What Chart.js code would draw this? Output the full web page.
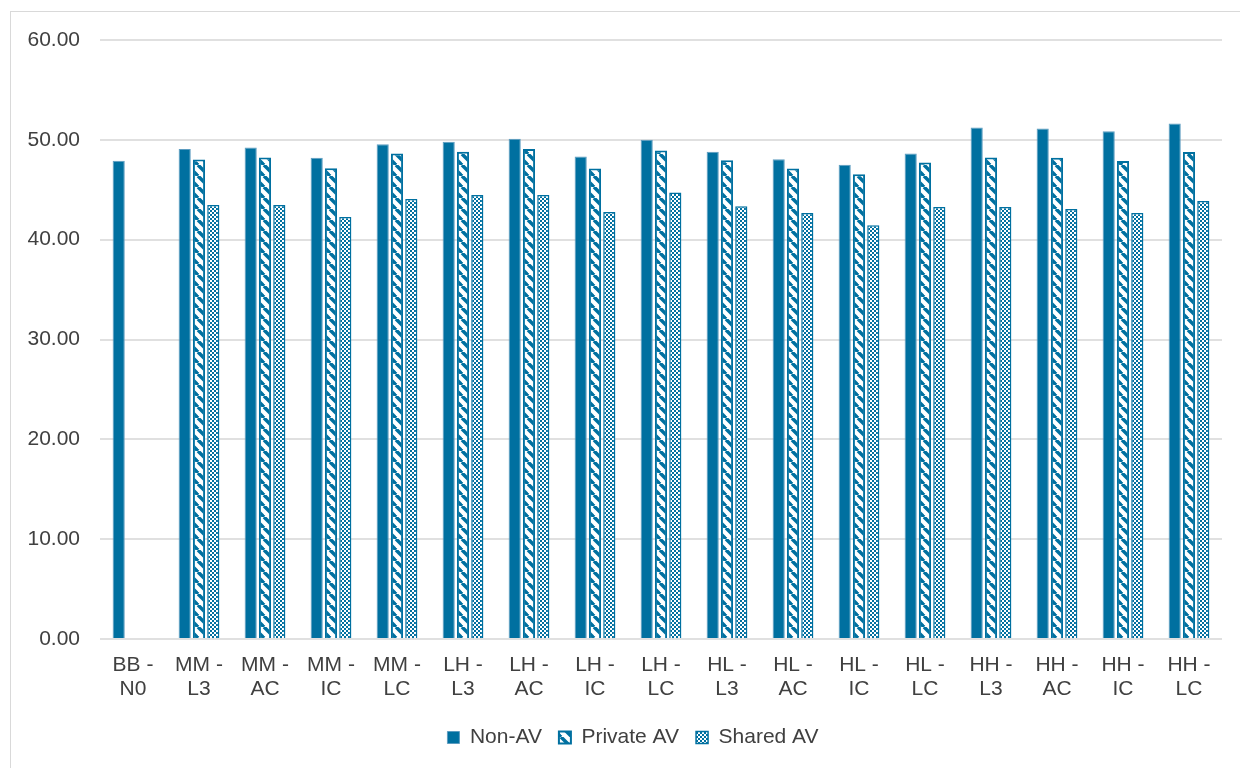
<!DOCTYPE html>
<html>
<head>
<meta charset="utf-8">
<script src="https://cdn.jsdelivr.net/npm/chart.js@4.4.1/dist/chart.umd.min.js"></script>
<style>
  html, body { margin: 0; padding: 0; background: #fff; overflow: hidden; }
  #frame { position: absolute; left: 10px; top: 11px; width: 1400px; height: 900px; border: 1px solid #d9d9d9; }
  #wrap { position: absolute; left: 0; top: 0; width: 1240px; height: 768px; }
</style>
</head>
<body>
<div id="frame"></div>
<div id="wrap"><canvas id="chart"></canvas></div>
<script>
// categories (two-line labels)
const categories = [
    ['BB -', 'N0'], ['MM -', 'L3'], ['MM -', 'AC'], ['MM -', 'IC'], ['MM -', 'LC'],
    ['LH -', 'L3'], ['LH -', 'AC'], ['LH -', 'IC'], ['LH -', 'LC'],
    ['HL -', 'L3'], ['HL -', 'AC'], ['HL -', 'IC'], ['HL -', 'LC'],
    ['HH -', 'L3'], ['HH -', 'AC'], ['HH -', 'IC'], ['HH -', 'LC']
];
const nonAV = [47.90, 49.07, 49.24, 48.20, 49.57, 49.80, 50.10, 48.33, 50.00, 48.80, 48.06, 47.50, 48.63, 51.23, 51.13, 50.86, 51.64];
const privateAV = [null, 48.03, 48.23, 47.16, 48.63, 48.80, 49.07, 47.13, 48.93, 47.96, 47.13, 46.56, 47.73, 48.23, 48.20, 47.87, 48.77];
const sharedAV = [null, 43.48, 43.48, 42.28, 44.08, 44.48, 44.48, 42.78, 44.72, 43.35, 42.68, 41.45, 43.28, 43.28, 43.08, 42.68, 43.88];

const BLUE = '#0070a0';
const TEXT = '#404040';

// wide downward diagonal stripes
function stripePattern() {
    const s = 11;
    const c = document.createElement('canvas');
    c.width = s; c.height = s;
    const g = c.getContext('2d');
    g.fillStyle = '#fff';
    g.fillRect(0, 0, s, s);
    g.strokeStyle = BLUE;
    g.lineWidth = 3.5;
    for (let k = -1; k <= 1; k++) {
        g.beginPath();
        g.moveTo(k * s, 0);
        g.lineTo(k * s + s, s);
        g.stroke();
    }
    return g.createPattern(c, 'repeat');
}

// small checkerboard
function checkerPattern() {
    const c = document.createElement('canvas');
    c.width = 4; c.height = 4;
    const g = c.getContext('2d');
    g.fillStyle = '#fff';
    g.fillRect(0, 0, 4, 4);
    g.fillStyle = BLUE;
    g.fillRect(0, 0, 2, 2);
    g.fillRect(2, 2, 2, 2);
    return g.createPattern(c, 'repeat');
}

// legend sits a little right of centre in the original
const legendShift = {
    id: 'legendShift',
    afterLayout(chart) {
        if (!chart.legend) return;
        chart.legend.left += 17;
        chart.legend.right += 17;
    }
};

Chart.defaults.font.family = '"Liberation Sans", Arial, sans-serif';
Chart.defaults.font.size = 21;
Chart.defaults.color = TEXT;

new Chart(document.getElementById('chart').getContext('2d'), {
    type: 'bar',
    data: {
        labels: categories,
        datasets: [
            { label: 'Non-AV', data: nonAV, backgroundColor: BLUE, borderColor: '#5d9cc0', borderWidth: 1 },
            { label: 'Private AV', data: privateAV, backgroundColor: stripePattern(), borderColor: BLUE, borderWidth: 2 },
            { label: 'Shared AV', data: sharedAV, backgroundColor: checkerPattern(), borderColor: BLUE, borderWidth: 1.5 }
        ]
    },
    options: {
        responsive: true,
        maintainAspectRatio: false,
        animation: false,
        categoryPercentage: 0.65,
        barPercentage: 0.85,
        layout: { padding: { left: 10, right: 18, top: 40, bottom: 10 } },
        plugins: {
            legend: {
                position: 'bottom',
                labels: { boxWidth: 12, boxHeight: 12, padding: 17, color: TEXT, font: { size: 21 } }
            },
            tooltip: { enabled: false }
        },
        scales: {
            y: {
                min: 0,
                max: 60,
                ticks: { stepSize: 10, padding: 20, callback: v => v.toFixed(2) },
                grid: { color: '#e0e0e0', lineWidth: 2, drawTicks: false },
                border: { display: false },
                afterFit: s => { s.width = 90; }
            },
            x: {
                grid: { display: false },
                border: { display: false },
                ticks: { padding: 6, maxRotation: 0, autoSkip: false, font: { lineHeight: 1.15 } },
                afterFit: s => { s.height = 71; }
            }
        }
    },
    plugins: [legendShift]
});
</script>
</body>
</html>
